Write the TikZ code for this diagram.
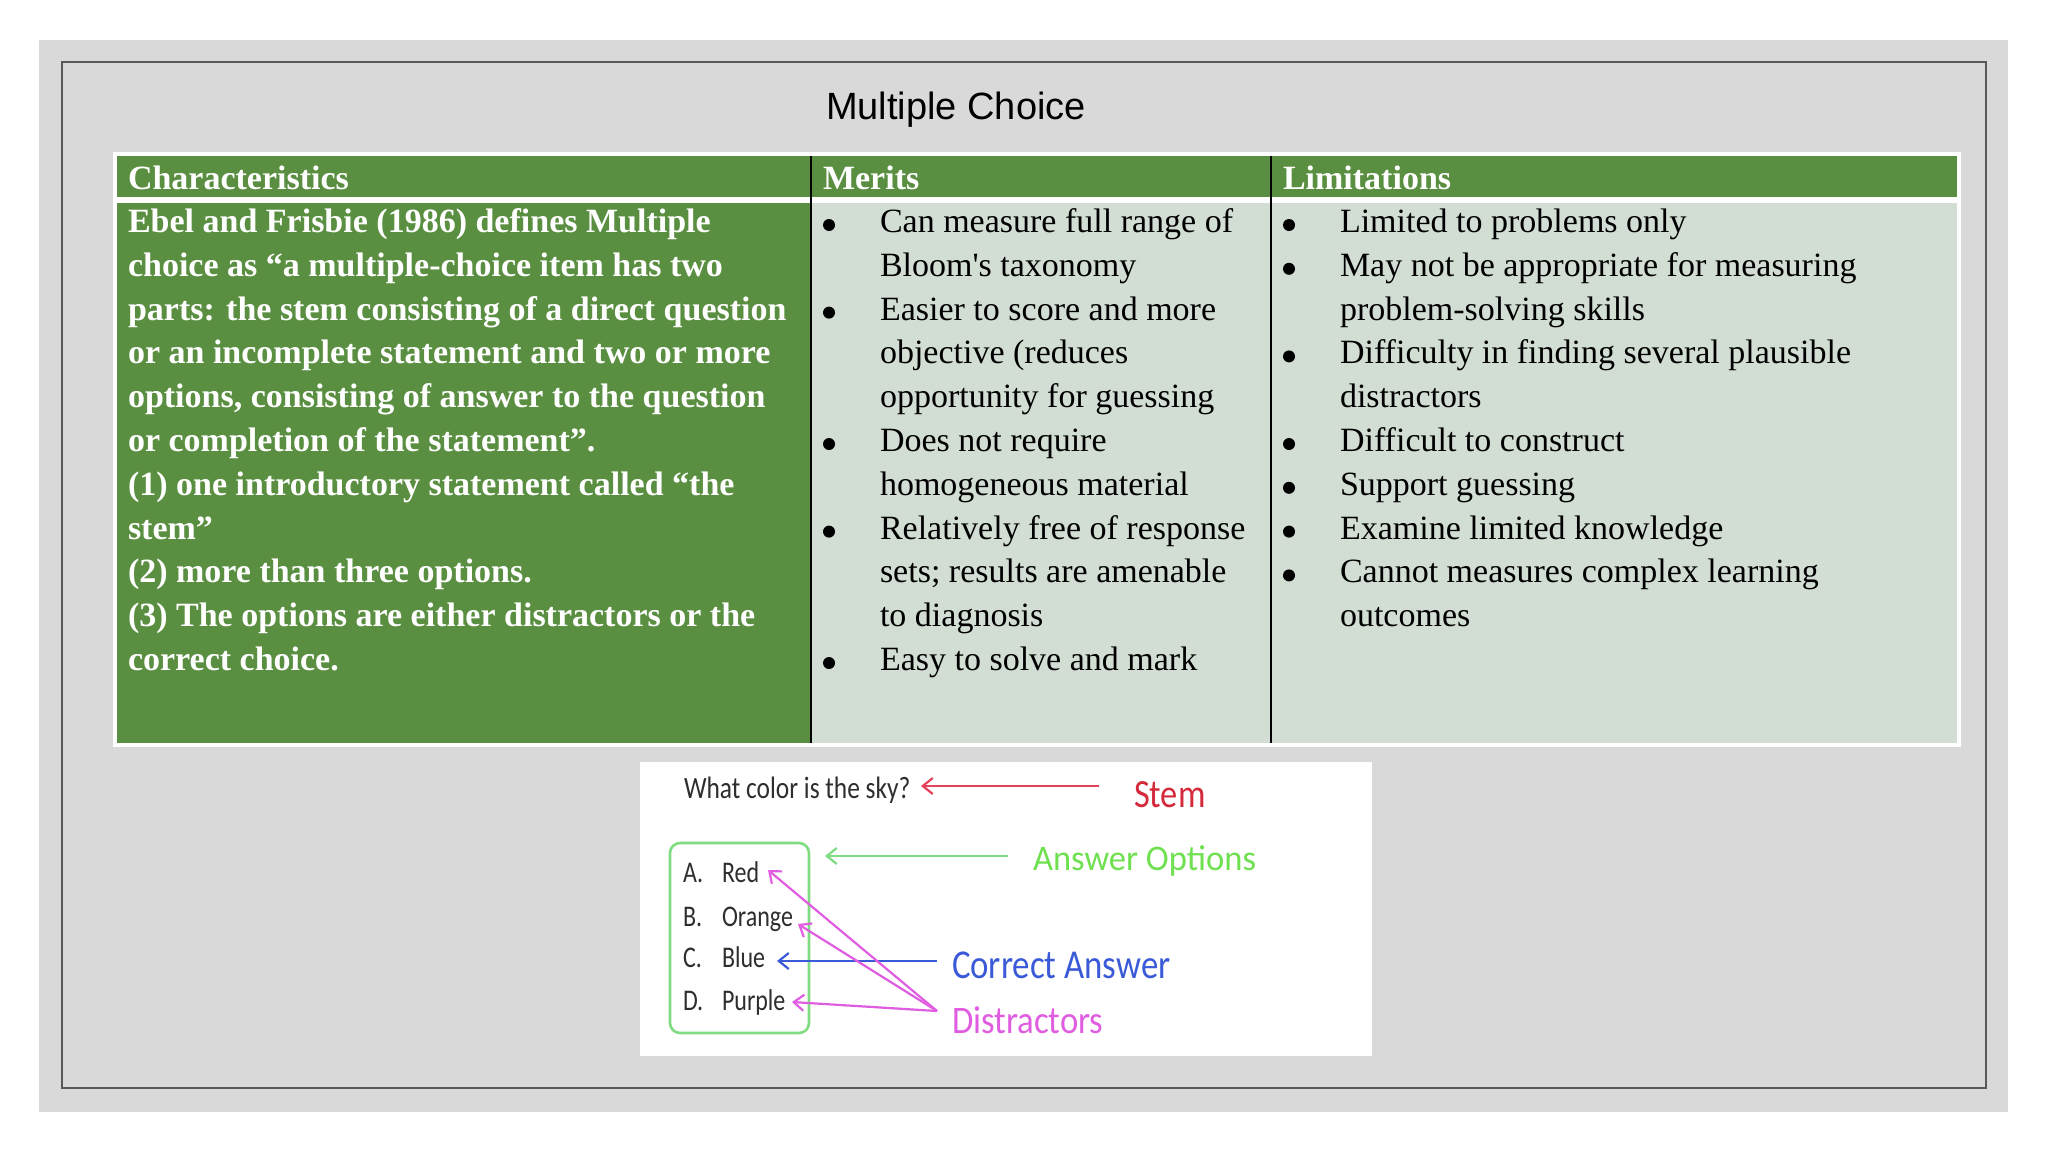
\documentclass[tikz,border=0pt]{standalone}
\usepackage{fontspec}
\usepackage{graphicx}
\usetikzlibrary{arrows.meta}
\newfontfamily\serifrm{Liberation Serif}
\newfontfamily\sansrm{Liberation Sans}
\newfontfamily\carl{Carlito}
\definecolor{pagegray}{HTML}{D9D9D9}
\definecolor{framegray}{HTML}{595959}
\definecolor{hdrgreen}{HTML}{5A8F41}
\definecolor{cellgray}{HTML}{D2DDD3}
\definecolor{stemred}{HTML}{D42A3C}
\definecolor{stemline}{HTML}{E8415A}
\definecolor{optgreen}{HTML}{6FE04F}
\definecolor{optline}{HTML}{80DC80}
\definecolor{corrblue}{HTML}{3A5AD8}
\definecolor{distmag}{HTML}{E05CE0}
\begin{document}
\begin{tikzpicture}[x=0.5pt,y=-0.5pt,
  txt/.style={anchor=base west,inner sep=0pt,outer sep=0pt},
  hdrtext/.style={txt,text=white,font=\serifrm\bfseries\fontsize{17}{22}\selectfont},
  chartext/.style={txt,text=white,font=\serifrm\bfseries\fontsize{17}{22}\selectfont},
  bodytext/.style={txt,text=black,font=\serifrm\fontsize{17}{22}\selectfont},
  bulletmark/.style={circle,fill=black,inner sep=0pt,minimum size=6pt},
  imgtext/.style={txt,text=black!82,font=\carl\fontsize{15}{18}\selectfont},
  pointer/.style={line width=1.1pt,-{Straight Barb[length=5pt,width=8pt]}}]
\useasboundingbox (0,0) rectangle (2048,1152);
\fill[white] (0,0) rectangle (2048,1152);
% page
\fill[pagegray] (39,40) rectangle (2008,1112);
\draw[framegray,line width=1pt] (62,62) rectangle (1986,1088);
% title
\node[txt,font=\sansrm\fontsize{19}{23}\selectfont] (title) at (826,119) {Multiple Choice};
% table
\fill[white] (113,152) rectangle (1961,747);
\fill[hdrgreen] (117,156) rectangle (1957,197);
\fill[hdrgreen] (117,203) rectangle (811,743);
\fill[cellgray] (811,203) rectangle (1957,743);
\draw[black,line width=1pt] (811,156) -- (811,743);
\draw[black,line width=1pt] (1271,156) -- (1271,743);
\node[hdrtext] (hch) at (128,189) {Characteristics};
\node[hdrtext] (hme) at (823,189) {Merits};
\node[hdrtext] (hli) at (1283,189) {Limitations};
% characteristics
\foreach \t [count=\i from 0] in {
  Ebel and Frisbie (1986) defines Multiple,
  choice as “a multiple-choice item has two,
  parts: the stem consisting of a direct question,
  or an incomplete statement and two or more,
  {options, consisting of answer to the question},
  or completion of the statement”.,
  (1) one introductory statement called “the,
  stem”,
  (2) more than three options.,
  (3) The options are either distractors or the,
  correct choice.}
  \node[chartext] (ch\i) at (128,{232.5+43.8*\i}) {\t};
% merits
\foreach \t [count=\i from 0] in {
  Can measure full range of,
  Bloom's taxonomy,
  Easier to score and more,
  objective (reduces,
  opportunity for guessing,
  Does not require,
  homogeneous material,
  Relatively free of response,
  sets; results are amenable,
  to diagnosis,
  Easy to solve and mark}
  \node[bodytext] (me\i) at (880,{232.5+43.8*\i}) {\t};
\foreach \i in {0,2,5,7,10}
  \node[bulletmark] (mb\i) at (829,{225+43.8*\i}) {};
% limitations
\foreach \t [count=\i from 0] in {
  Limited to problems only,
  May not be appropriate for measuring,
  problem-solving skills,
  Difficulty in finding several plausible,
  distractors,
  Difficult to construct,
  Support guessing,
  Examine limited knowledge,
  Cannot measures complex learning,
  outcomes}
  \node[bodytext] (li\i) at (1340,{232.5+43.8*\i}) {\t};
\foreach \i in {0,1,3,5,6,7,8}
  \node[bulletmark] (lb\i) at (1289,{225+43.8*\i}) {};
% example image
\fill[white] (640,762) rectangle (1372,1056);
\node[imgtext,font=\carl\fontsize{15.5}{18}\selectfont] (q) at (684,798) {\scalebox{0.82}[1]{What color is the sky?}};
\draw[optline,line width=1.3pt,rounded corners=5pt] (670,843) rectangle (809,1033);
\node[imgtext] (la) at (683,882) {\scalebox{0.8}[1]{A.}};
\node[imgtext] (lb) at (683,926) {\scalebox{0.8}[1]{B.}};
\node[imgtext] (lc) at (683,967) {\scalebox{0.8}[1]{C.}};
\node[imgtext] (ld) at (683,1010) {\scalebox{0.8}[1]{D.}};
\node[imgtext] (oa) at (722,882) {\scalebox{0.8}[1]{Red}};
\node[imgtext] (ob) at (722,926) {\scalebox{0.8}[1]{Orange}};
\node[imgtext] (oc) at (722,967) {\scalebox{0.8}[1]{Blue}};
\node[imgtext] (od) at (722,1010) {\scalebox{0.8}[1]{Purple}};
\node[txt,text=stemred,font=\carl\fontsize{20}{24}\selectfont] (stem) at (1134,807) {\scalebox{0.86}[1]{Stem}};
\node[txt,text=optgreen,font=\carl\fontsize{18}{22}\selectfont] (aopt) at (1033,870) {\scalebox{0.96}[1]{Answer Options}};
\node[txt,text=corrblue,font=\carl\fontsize{20.5}{24}\selectfont] (corr) at (952,978) {\scalebox{0.85}[1]{Correct Answer}};
\node[txt,text=distmag,font=\carl\fontsize{19.5}{23}\selectfont] (dist) at (952,1033) {\scalebox{0.89}[1]{Distractors}};
\coordinate (stemS) at (1099,786);
\coordinate (stemE) at (921,786);
\coordinate (aoS) at (1008,856);
\coordinate (aoE) at (825,856);
\coordinate (caS) at (937,961);
\coordinate (caE) at (777,961);
\coordinate (dS) at (937,1011);
\coordinate (dA) at (768,870);
\coordinate (dB) at (798,924);
\coordinate (dD) at (792,1002);
\draw[pointer,stemline] (stemS) -- (stemE);
\draw[pointer,optline] (aoS) -- (aoE);
\draw[pointer,corrblue] (caS) -- (caE);
\draw[pointer,distmag] (dS) -- (dA);
\draw[pointer,distmag] (dS) -- (dB);
\draw[pointer,distmag] (dS) -- (dD);
\end{tikzpicture}
\end{document}
